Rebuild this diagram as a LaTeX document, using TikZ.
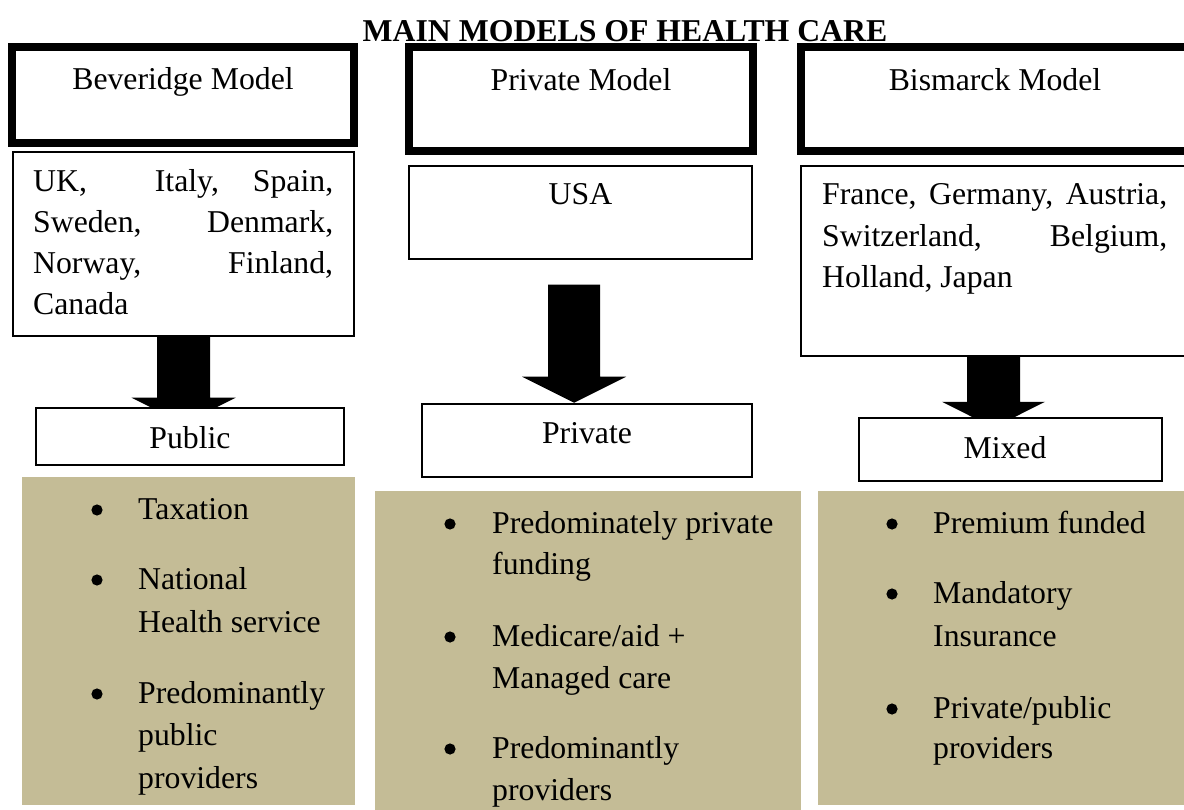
\documentclass[tikz,border=0pt]{standalone}
\usepackage{fontspec}
\setmainfont{Liberation Serif}
\definecolor{tanbg}{RGB}{196,188,150}
\newcommand\mybody{\fontsize{31.75pt}{41.5pt}\selectfont}
\begin{document}
\begin{tikzpicture}[x=1pt,y=-1pt,
  every node/.style={font=\mybody, inner sep=0pt},
  headbox/.style={draw, line width=8pt, fill=white},
  thinbox/.style={draw, line width=1.5pt, fill=white},
  tanbox/.style={fill=tanbg},
  txt/.style={anchor=base west},
  blockarrow/.style={fill=black},
  bul/.style={fill=black}]
\useasboundingbox (0,0) rectangle (1184,810);
\clip (0,0) rectangle (1184,810);

% tan panels
\path[tanbox] (22,477) rectangle (355,805);
\path[tanbox] (375,491) rectangle (801,815);
\path[tanbox] (818,491) rectangle (1190,805);

% header boxes
\node[headbox, minimum width=342pt, minimum height=96pt, text height=10pt, text depth=20pt] (hbev) at (183,95) {Beveridge Model};
\node[headbox, minimum width=344pt, minimum height=104pt, text height=7pt, text depth=23pt] (hpriv) at (581,99) {Private Model};
\node[headbox, minimum width=388pt, minimum height=104pt, text height=7pt, text depth=23pt] (hbis) at (995,99) {Bismarck Model};

% country boxes
\node[thinbox, minimum width=341pt, minimum height=184pt] (cbev) at (183.5,244) {};
\node[thinbox, minimum width=343pt, minimum height=93pt, text height=8pt, text depth=23pt] (cusa) at (580.5,212.5) {USA};
\node[thinbox, minimum width=388pt, minimum height=190pt] (cbis) at (995,261) {};

\node[txt] (cb1) at (33,192) {\hbox to 300pt{UK,\hfill\hfill Italy,\hfill Spain,}};
\node[txt] (cb2) at (33,233) {\hbox to 300pt{Sweden,\hfill Denmark,}};
\node[txt] (cb3) at (33,274) {\hbox to 300pt{Norway,\hfill Finland,}};
\node[txt] (cb4) at (33,315) {Canada};

\node[txt] (cs1) at (822,205) {\hbox to 345pt{France,\hfill Germany,\hfill Austria,}};
\node[txt] (cs2) at (822,246.5) {\hbox to 345pt{Switzerland,\hfill Belgium,}};
\node[txt] (cs3) at (822,288) {Holland, Japan};

% block arrows
\path[blockarrow] (cbev.south) ++(-26.5,0) -- ++(0,61) -- ++(-25.5,0) -- ++(52,26) -- ++(52,-26) -- ++(-25.5,0) -- ++(0,-61) -- cycle;
\path[blockarrow] (cusa.south) ++(-32.5,25) -- ++(0,92) -- ++(-26,0) -- ++(52,26) -- ++(52,-26) -- ++(-26,0) -- ++(0,-92) -- cycle;
\path[blockarrow] (cbis.south) ++(-28,0) -- ++(0,45) -- ++(-25,0) -- ++(51.5,26) -- ++(51.5,-26) -- ++(-25,0) -- ++(0,-45) -- cycle;

% result boxes
\node[thinbox, minimum width=308pt, minimum height=57pt, text height=27pt, text depth=4pt] (rpub) at (190,436.5) {Public};
\node[thinbox, minimum width=330pt, minimum height=73pt, text height=18pt, text depth=13pt] (rpriv) at (587,440.5) {Private};
\node[thinbox, minimum width=303pt, minimum height=63pt, text height=24pt, text depth=7pt] (rmix) at (1010.5,449.5) {Mixed\hspace*{11pt}};

% left bullets
\fill[bul] (97,510) circle[radius=5.6pt];
\fill[bul] (97,580) circle[radius=5.6pt];
\fill[bul] (97,694) circle[radius=5.6pt];
\node[txt] (l1) at (138,519) {Taxation};
\node[txt] (l2) at (138,589) {National};
\node[txt] (l3) at (138,632) {Health service};
\node[txt] (l4) at (138,703) {Predominantly};
\node[txt] (l5) at (138,745) {public};
\node[txt] (l6) at (138,788) {providers};

% middle bullets
\fill[bul] (450,524) circle[radius=5.6pt];
\fill[bul] (450,637) circle[radius=5.6pt];
\fill[bul] (450,749) circle[radius=5.6pt];
\node[txt] (m1) at (492,533) {Predominately private};
\node[txt] (m2) at (492,574) {funding};
\node[txt] (m3) at (492,646) {Medicare/aid +};
\node[txt] (m4) at (492,688) {Managed care};
\node[txt] (m5) at (492,758) {Predominantly};
\node[txt] (m6) at (492,800) {providers};

% right bullets
\fill[bul] (892,524) circle[radius=5.6pt];
\fill[bul] (892,594) circle[radius=5.6pt];
\fill[bul] (892,709) circle[radius=5.6pt];
\node[txt] (r1) at (933,533) {Premium funded};
\node[txt] (r2) at (933,603) {Mandatory};
\node[txt] (r3) at (933,646) {Insurance};
\node[txt] (r4) at (933,718) {Private/public};
\node[txt] (r5) at (933,758) {providers};

% title
\node[anchor=base, font=\mybody\bfseries] (title) at (625,42) {MAIN MODELS OF HEALTH CARE};
\end{tikzpicture}
\end{document}
